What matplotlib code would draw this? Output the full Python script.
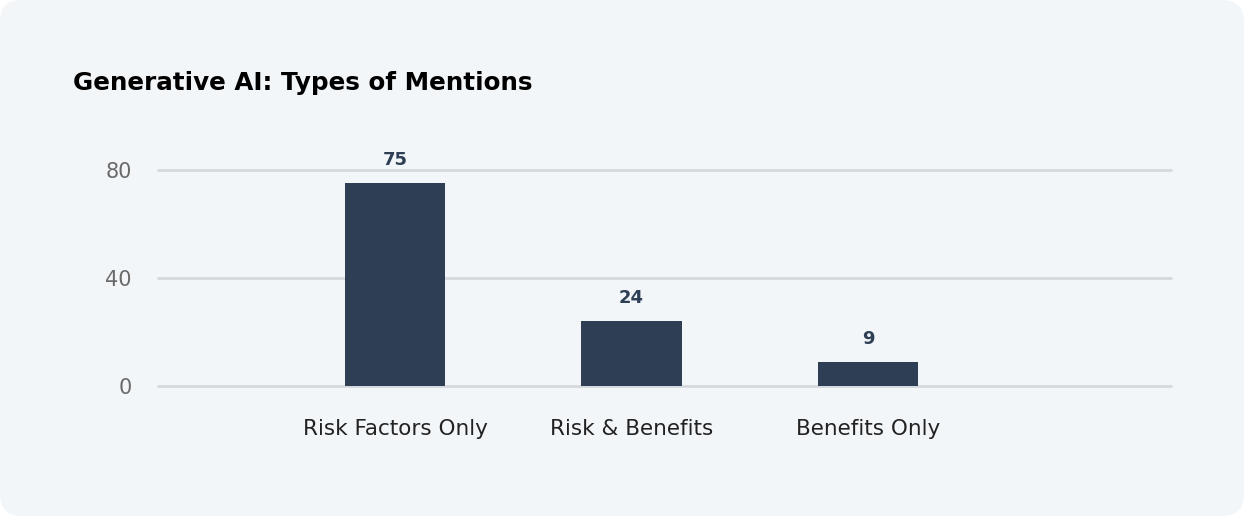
import matplotlib.pyplot as plt
from matplotlib.patches import FancyBboxPatch

categories = ['Risk Factors Only', 'Risk & Benefits', 'Benefits Only']
mentions = [75, 24, 9]
y_ticks = [0, 40, 80]

BG = '#f3f6f9'
BAR = '#2e3e55'

plt.rcParams['font.family'] = ['DejaVu Sans']

W, H = 1244, 516
fig = plt.figure(figsize=(W / 100, H / 100), dpi=100)
fig.patch.set_facecolor('white')

# rounded card background (inches)
card = FancyBboxPatch((0, 0), W / 100, H / 100,
                      boxstyle='round,pad=0,rounding_size=0.22',
                      transform=fig.dpi_scale_trans, facecolor=BG, edgecolor='none',
                      zorder=-5)
fig.patches.append(card)

ax = fig.add_axes([157 / W, (H - 386) / H, (1172 - 157) / W, (386 - 170) / H])
ax.set_facecolor('none')
ax.set_zorder(2)

x = range(len(categories))
ax.bar(x, mentions, width=0.423, color=BAR, zorder=3)
for xi, v in zip(x, mentions):
    ax.annotate(str(v), (xi, v), xytext=(0, 13), textcoords='offset points',
                ha='center', va='baseline', fontsize=13, fontweight='bold',
                color=BAR, annotation_clip=False)

ax.set_xlim(-1.006, 3.285)
ax.set_ylim(0, 80)
ax.set_yticks(y_ticks)
ax.set_xticks(list(x))
ax.set_xticklabels(categories, fontsize=15.5, color='#222222')
ax.tick_params(axis='x', length=0, pad=24)
ax.tick_params(axis='y', length=0, pad=18, labelsize=15, labelcolor='#6a6a6a')
ax.grid(axis='y', color='#d5d8dc', linewidth=2, zorder=0)
for gl in ax.get_ygridlines():
    gl.set_clip_on(False)
    gl.set_solid_capstyle('butt')
ax.set_axisbelow(True)
for s in ax.spines.values():
    s.set_visible(False)

fig.text(73 / W, 1 - 83 / H, 'Generative AI: Types of Mentions', fontsize=17.7,
         fontweight='bold', color='black', va='center', ha='left')

fig.savefig('out.png', dpi=100, facecolor=fig.get_facecolor())
